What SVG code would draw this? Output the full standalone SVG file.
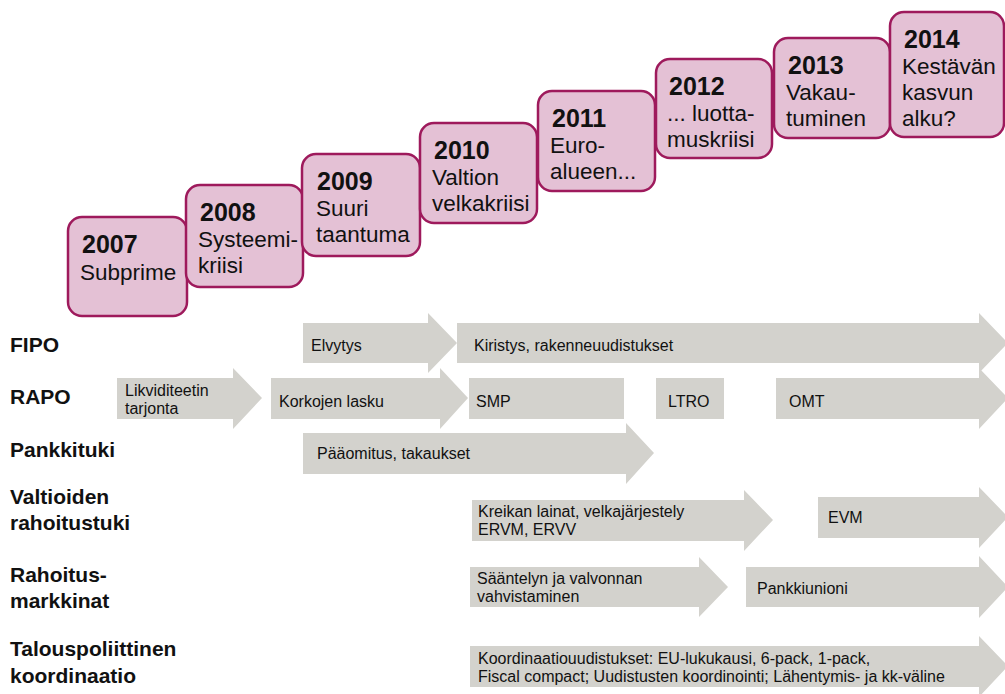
<svg xmlns="http://www.w3.org/2000/svg" width="1005" height="694" viewBox="0 0 1005 694">
<style>
.box{fill:#e4c1d5;stroke:#9e1a5c;stroke-width:2.5}
.yr{font-family:"Liberation Sans",Arial,sans-serif;font-weight:bold;font-size:25px;fill:#111}
.bt{font-family:"Liberation Sans",Arial,sans-serif;font-size:22.5px;fill:#111}
.arr{fill:#d3d2cd}
.at{font-family:"Liberation Sans",Arial,sans-serif;font-size:16px;fill:#111}
.lbl{font-family:"Liberation Sans",Arial,sans-serif;font-weight:bold;font-size:21px;fill:#111}
</style>
<rect width="1005" height="694" fill="#fff"/>
<g id="labels">
<text class="lbl" x="10" y="352">FIPO</text>
<text class="lbl" x="10" y="404">RAPO</text>
<text class="lbl" x="10" y="457">Pankkituki</text>
<text class="lbl" x="10" y="504">Valtioiden</text>
<text class="lbl" x="10" y="530">rahoitustuki</text>
<text class="lbl" x="10" y="582">Rahoitus-</text>
<text class="lbl" x="10" y="608">markkinat</text>
<text class="lbl" x="10" y="656">Talouspoliittinen</text>
<text class="lbl" x="10" y="683">koordinaatio</text>
</g>
<g id="y2007"><rect class="box" x="68" y="217" width="119" height="99" rx="14"/><text class="yr" x="82" y="253">2007</text><text class="bt" x="80" y="280">Subprime</text></g>
<g id="y2008"><rect class="box" x="186" y="185" width="117" height="102" rx="14"/><text class="yr" x="200" y="221">2008</text><text class="bt" x="198" y="247">Systeemi-</text><text class="bt" x="198" y="273">kriisi</text></g>
<g id="y2009"><rect class="box" x="302" y="154" width="118" height="102" rx="14"/><text class="yr" x="317" y="190">2009</text><text class="bt" x="316" y="216">Suuri</text><text class="bt" x="316" y="242">taantuma</text></g>
<g id="y2010"><rect class="box" x="420" y="123" width="117" height="100" rx="14"/><text class="yr" x="434" y="159">2010</text><text class="bt" x="432" y="185">Valtion</text><text class="bt" x="432" y="211">velkakriisi</text></g>
<g id="y2011"><rect class="box" x="538" y="91" width="117" height="100" rx="14"/><text class="yr" x="552" y="127">2011</text><text class="bt" x="550" y="153">Euro-</text><text class="bt" x="550" y="179">alueen...</text></g>
<g id="y2012"><rect class="box" x="656" y="59" width="116" height="99" rx="14"/><text class="yr" x="669" y="95">2012</text><text class="bt" x="667" y="121">... luotta-</text><text class="bt" x="667" y="147">muskriisi</text></g>
<g id="y2013"><rect class="box" x="774" y="38" width="116" height="100" rx="14"/><text class="yr" x="788" y="74">2013</text><text class="bt" x="786" y="100">Vakau-</text><text class="bt" x="786" y="126">tuminen</text></g>
<g id="y2014"><rect class="box" x="890" y="12" width="114" height="125" rx="14"/><text class="yr" x="904" y="48">2014</text><text class="bt" x="902" y="74">Kestävän</text><text class="bt" x="902" y="100">kasvun</text><text class="bt" x="902" y="126">alku?</text></g>
<g id="connectors"/>
<g id="elvytys"><path class="arr" d="M303 323H428V313L457 343L428 373V363H303Z"/><text class="at" x="311" y="351">Elvytys</text></g>
<g id="kiristys"><path class="arr" d="M457 323H979V313L1008 343L979 373V363H457Z"/><text class="at" x="474" y="351">Kiristys, rakenneuudistukset</text></g>
<g id="likviditeetti"><path class="arr" d="M117 378H233V368L262 398L233 429V419H117Z"/><text class="at" x="125" y="396">Likviditeetin</text><text class="at" x="125" y="414">tarjonta</text></g>
<g id="korkojen"><path class="arr" d="M271 378H440V368L468 398L440 429V419H271Z"/><text class="at" x="279" y="407">Korkojen lasku</text></g>
<g id="smp"><rect class="arr" x="469" y="378" width="155" height="41"/><text class="at" x="476" y="407">SMP</text></g>
<g id="ltro"><rect class="arr" x="656" y="378" width="68" height="41"/><text class="at" x="668" y="407">LTRO</text></g>
<g id="omt"><path class="arr" d="M776 378H979V368L1008 398L979 429V419H776Z"/><text class="at" x="789" y="407">OMT</text></g>
<g id="paaomitus"><path class="arr" d="M303 433H626V423L654 453L626 484V474H303Z"/><text class="at" x="317" y="459">Pääomitus, takaukset</text></g>
<g id="kreikan"><path class="arr" d="M472 500H744V490L773 520L744 551V541H472Z"/><text class="at" x="478" y="517">Kreikan lainat, velkajärjestely</text><text class="at" x="478" y="535">ERVM, ERVV</text></g>
<g id="evm"><path class="arr" d="M818 497H979V487L1008 517L979 548V538H818Z"/><text class="at" x="828" y="523">EVM</text></g>
<g id="saantely"><path class="arr" d="M470 567H699V557L728 587L699 617V607H470Z"/><text class="at" x="477" y="584">Sääntelyn ja valvonnan</text><text class="at" x="477" y="602">vahvistaminen</text></g>
<g id="pankkiunioni"><path class="arr" d="M746 567H979V556L1008 587L979 618V607H746Z"/><text class="at" x="757" y="594">Pankkiunioni</text></g>
<g id="koordinaatio"><path class="arr" d="M470 646H979V636L1008 666L979 697V687H470Z"/><text class="at" x="478" y="664">Koordinaatiouudistukset: EU-lukukausi, 6-pack, 1-pack,</text><text class="at" x="478" y="682">Fiscal compact; Uudistusten koordinointi; Lähentymis- ja kk-väline</text></g>
</svg>
